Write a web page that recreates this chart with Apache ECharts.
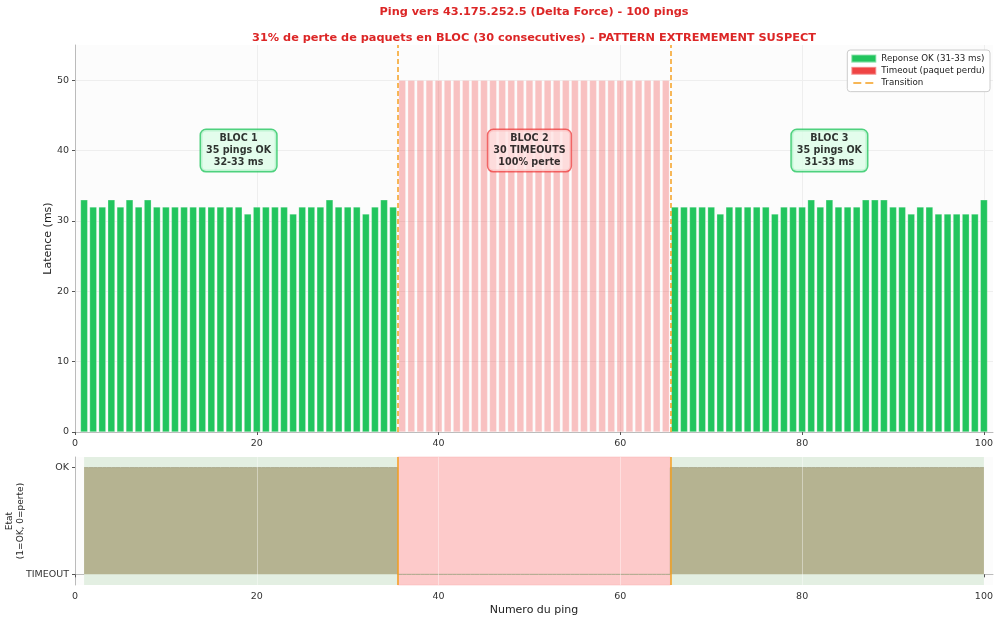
<!DOCTYPE html>
<html style="height: 100%">
    <head>
        <title>Ping Delta Force</title>
        <script type="text/javascript" src="https://cdn.jsdelivr.net/npm/echarts@6.0.0/dist/echarts.min.js"></script>
    </head>
    <body style="height: 100%; margin: 0; background: #fff">
        <div id="target" style="width: 1000px; height: 621px"></div>
<script>
// latency of each OK ping (ms), block 1 = pings 1-35, block 3 = pings 66-100
const bloc1Latency = [33, 32, 32, 33, 32, 33, 32, 33, 32, 32, 32, 32, 32, 32, 32, 32, 32, 32, 31, 32,
                      32, 32, 32, 31, 32, 32, 32, 33, 32, 32, 32, 31, 32, 33, 32];
const bloc3Latency = [32, 32, 32, 32, 32, 31, 32, 32, 32, 32, 32, 31, 32, 32, 32, 33, 32, 33, 32, 32,
                      32, 33, 33, 33, 32, 32, 31, 32, 32, 31, 31, 31, 31, 31, 33];
const bloc1Start = 1;
const timeoutStart = 36;
const timeoutCount = 30;
const bloc3Start = 66;
const timeoutBarMs = 50;          // height used to draw a lost packet
const transitions = [35.5, 65.5];

const xTicks = [0, 20, 40, 60, 80, 100];
const yTicks = [0, 10, 20, 30, 40, 50];
const stateLabels = {0: 'TIMEOUT', 1: 'OK'};

const blocNotes = [
    {x: 18, y: 40, text: 'BLOC 1\n35 pings OK\n32-33 ms', kind: 'ok'},
    {x: 50, y: 40, text: 'BLOC 2\n30 TIMEOUTS\n100% perte', kind: 'lost'},
    {x: 83, y: 40, text: 'BLOC 3\n35 pings OK\n31-33 ms', kind: 'ok'},
];

const GREEN = '#22c55e';
const RED = '#ef4444';
const ORANGE = '#f5a020';
const FONT = 'DejaVu Sans';

// build series data
let okBars = [];
let stateData = [];
bloc1Latency.forEach((v, i) => { okBars.push([bloc1Start + i, v]); });
bloc3Latency.forEach((v, i) => { okBars.push([bloc3Start + i, v]); });
let timeoutBars = [];
for (let i = 0; i < timeoutCount; i++) timeoutBars.push([timeoutStart + i, timeoutBarMs]);
okBars.forEach(p => stateData.push([p[0], 1]));
timeoutBars.forEach(p => stateData.push([p[0], 0]));
stateData.sort((a, b) => a[0] - b[0]);

let chart = echarts.init(document.getElementById('target'));

let axisCommon = {
    axisLine: { lineStyle: { color: '#bbbbbb' } },
    axisTick: { lineStyle: { color: '#555' }, length: 3 },
    axisLabel: { color: '#333', fontSize: 9.5, fontFamily: FONT, margin: 2 },
    nameMoveOverlap: false,
};

// two dashes, padded so the icon keeps the legend box size
const dashIcon = 'path://M0,0h0.01v0.01h-0.01z M24.99,7.99h0.01v0.01h-0.01z M2,3.2h8v1.6h-8z M14,3.2h8v1.6h-8z';

let option = {
    animation: false,
    textStyle: { fontFamily: FONT },
    graphic: [
        { type: 'text', x: 534, y: 12, silent: true,
          style: { text: 'Ping vers 43.175.252.5 (Delta Force) - 100 pings', fill: '#dc2626',
                   font: 'bold 11.3px "DejaVu Sans"', align: 'center', verticalAlign: 'middle' } },
        { type: 'text', x: 534, y: 38, silent: true,
          style: { text: '31% de perte de paquets en BLOC (30 consecutives) - PATTERN EXTREMEMENT SUSPECT',
                   fill: '#dc2626', font: 'bold 11.3px "DejaVu Sans"', align: 'center', verticalAlign: 'middle' } },
    ],
    legend: {
        top: 50, right: 10, orient: 'vertical',
        backgroundColor: '#fff', borderColor: '#cccccc', borderWidth: 1, borderRadius: 3,
        padding: [0, 5, 0, 3], itemGap: -5, itemWidth: 25, itemHeight: 8,
        textStyle: { fontSize: 8.7, color: '#222', fontFamily: FONT, lineHeight: 11 },
        data: [
            { name: 'Reponse OK (31-33 ms)', icon: 'rect', itemStyle: { color: GREEN } },
            { name: 'Timeout (paquet perdu)', icon: 'rect', itemStyle: { color: RED } },
            { name: 'Transition', icon: dashIcon, itemStyle: { color: ORANGE, borderWidth: 0 } },
        ],
    },
    grid: [
        { left: 75, right: 7, top: 45, height: 387, show: true, backgroundColor: '#fcfcfc', borderWidth: 0,
          outerBoundsMode: 'none', containLabel: false },
        { left: 75, right: 7, top: 457, height: 128, show: true, backgroundColor: '#fcfcfc', borderWidth: 0,
          outerBoundsMode: 'none', containLabel: false },
    ],
    xAxis: [
        Object.assign({}, axisCommon, {
            type: 'value', gridIndex: 0, min: 0, max: 101,
            splitLine: { show: true, lineStyle: { color: '#eeeeee' } },
            axisTick: Object.assign({}, axisCommon.axisTick, { customValues: xTicks }),
            axisLabel: Object.assign({}, axisCommon.axisLabel, { customValues: xTicks }),
        }),
        Object.assign({}, axisCommon, {
            type: 'value', gridIndex: 1, min: 0, max: 101,
            name: 'Numero du ping', nameLocation: 'middle', nameGap: 14,
            nameTextStyle: { fontSize: 11, color: '#222', fontFamily: FONT },
            splitLine: { show: false },
            axisTick: Object.assign({}, axisCommon.axisTick, { customValues: xTicks }),
            axisLabel: Object.assign({}, axisCommon.axisLabel, { customValues: xTicks }),
        }),
    ],
    yAxis: [
        Object.assign({}, axisCommon, {
            type: 'value', gridIndex: 0, min: 0, max: 55,
            name: 'Latence (ms)', nameLocation: 'middle', nameGap: 16,
            nameTextStyle: { fontSize: 11, color: '#222', fontFamily: FONT },
            axisLine: { show: true, lineStyle: { color: '#bbbbbb' } },
            splitLine: { show: true, lineStyle: { color: '#eeeeee' } },
            axisTick: Object.assign({}, axisCommon.axisTick, { show: true, customValues: yTicks }),
            axisLabel: Object.assign({}, axisCommon.axisLabel, { margin: 6, customValues: yTicks }),
        }),
        Object.assign({}, axisCommon, {
            type: 'value', gridIndex: 1, min: -0.1, max: 1.1,
            name: 'Etat\n(1=OK, 0=perte)', nameLocation: 'middle', nameGap: 49,
            nameTextStyle: { fontSize: 9, color: '#222', fontFamily: FONT, lineHeight: 11 },
            axisLine: { show: true, lineStyle: { color: '#bbbbbb' } },
            splitLine: { show: false },
            axisTick: Object.assign({}, axisCommon.axisTick, { show: true, customValues: [0, 1] }),
            axisLabel: Object.assign({}, axisCommon.axisLabel, { margin: 6,
                customValues: [0, 1], formatter: v => stateLabels[Math.round(v)] || '' }),
        }),
    ],
    series: [
        {
            name: 'Reponse OK (31-33 ms)', type: 'bar', xAxisIndex: 0, yAxisIndex: 0,
            data: okBars, barWidth: 7.3,
            itemStyle: { color: GREEN, borderColor: 'rgba(255,255,255,0.45)', borderWidth: 0.6 },
        },
        {
            name: 'Timeout (paquet perdu)', type: 'bar', xAxisIndex: 0, yAxisIndex: 0,
            data: timeoutBars, barWidth: 7.3, barGap: '-100%',
            itemStyle: { color: 'rgba(239,68,68,0.32)', borderColor: 'rgba(255,255,255,0.45)', borderWidth: 0.6 },
        },
        {
            name: 'Transition', type: 'line', xAxisIndex: 0, yAxisIndex: 0, data: [],
            symbol: 'none', z: 5,
            lineStyle: { color: ORANGE, type: [5, 3], width: 1.5 },
            itemStyle: { color: ORANGE },
            markLine: {
                silent: true, symbol: ['none', 'none'], label: { show: false },
                lineStyle: { color: ORANGE, type: [5, 3], width: 1.5 },
                data: transitions.map(x => ({ xAxis: x })),
            },
        },
        {
            name: 'notes', type: 'scatter', xAxisIndex: 0, yAxisIndex: 0, symbolSize: 0, z: 6,
            data: blocNotes.map(n => ({
                value: [n.x, n.y],
                label: {
                    show: true, position: 'inside', formatter: n.text,
                    fontFamily: FONT, fontWeight: 'bold', fontSize: 9.6, lineHeight: 12, color: '#000',
                    backgroundColor: n.kind === 'ok' ? '#dcfce7' : '#fee2e2',
                    borderColor: n.kind === 'ok' ? GREEN : RED, borderWidth: 1.5, borderRadius: 5,
                    padding: [3, 5, 2, 5],
                },
            })),
        },
        // bottom panel: background bands
        {
            name: 'bandOk', type: 'line', xAxisIndex: 1, yAxisIndex: 1, data: [], z: 1, silent: true,
            markArea: { silent: true, itemStyle: { color: '#e3efe2' },
                data: [[{ xAxis: 1, yAxis: -0.1 }, { xAxis: 100, yAxis: 1.1 }]] },
        },
        {
            name: 'bandLost', type: 'line', xAxisIndex: 1, yAxisIndex: 1, data: [], z: 2, silent: true,
            markArea: { silent: true, itemStyle: { color: '#fdcaca', borderColor: '#f9b3b3', borderWidth: 0.5 },
                data: [[{ xAxis: transitions[0], yAxis: -0.1 }, { xAxis: transitions[1], yAxis: 1.1 }]] },
        },
        {
            name: 'etat', type: 'line', xAxisIndex: 1, yAxisIndex: 1, data: stateData, z: 3,
            step: 'middle', symbol: 'none', silent: true,
            lineStyle: { color: '#a9a88a', width: 1 },
            areaStyle: { color: '#b5b391', opacity: 1, origin: 0 },
        },
        {
            name: 'bottomLines', type: 'line', xAxisIndex: 1, yAxisIndex: 1, data: [], z: 4, silent: true,
            markLine: {
                silent: true, symbol: ['none', 'none'], label: { show: false },
                data: [20, 40, 60, 80].map(x => ({ xAxis: x, lineStyle: { color: 'rgba(255,255,255,0.4)', width: 1, type: 'solid' } }))
                    .concat(transitions.map(x => ({ xAxis: x, lineStyle: { color: ORANGE, width: 1.5, type: 'solid' } }))),
            },
        },
    ],
};

chart.setOption(option);
</script>
    </body>
</html>
